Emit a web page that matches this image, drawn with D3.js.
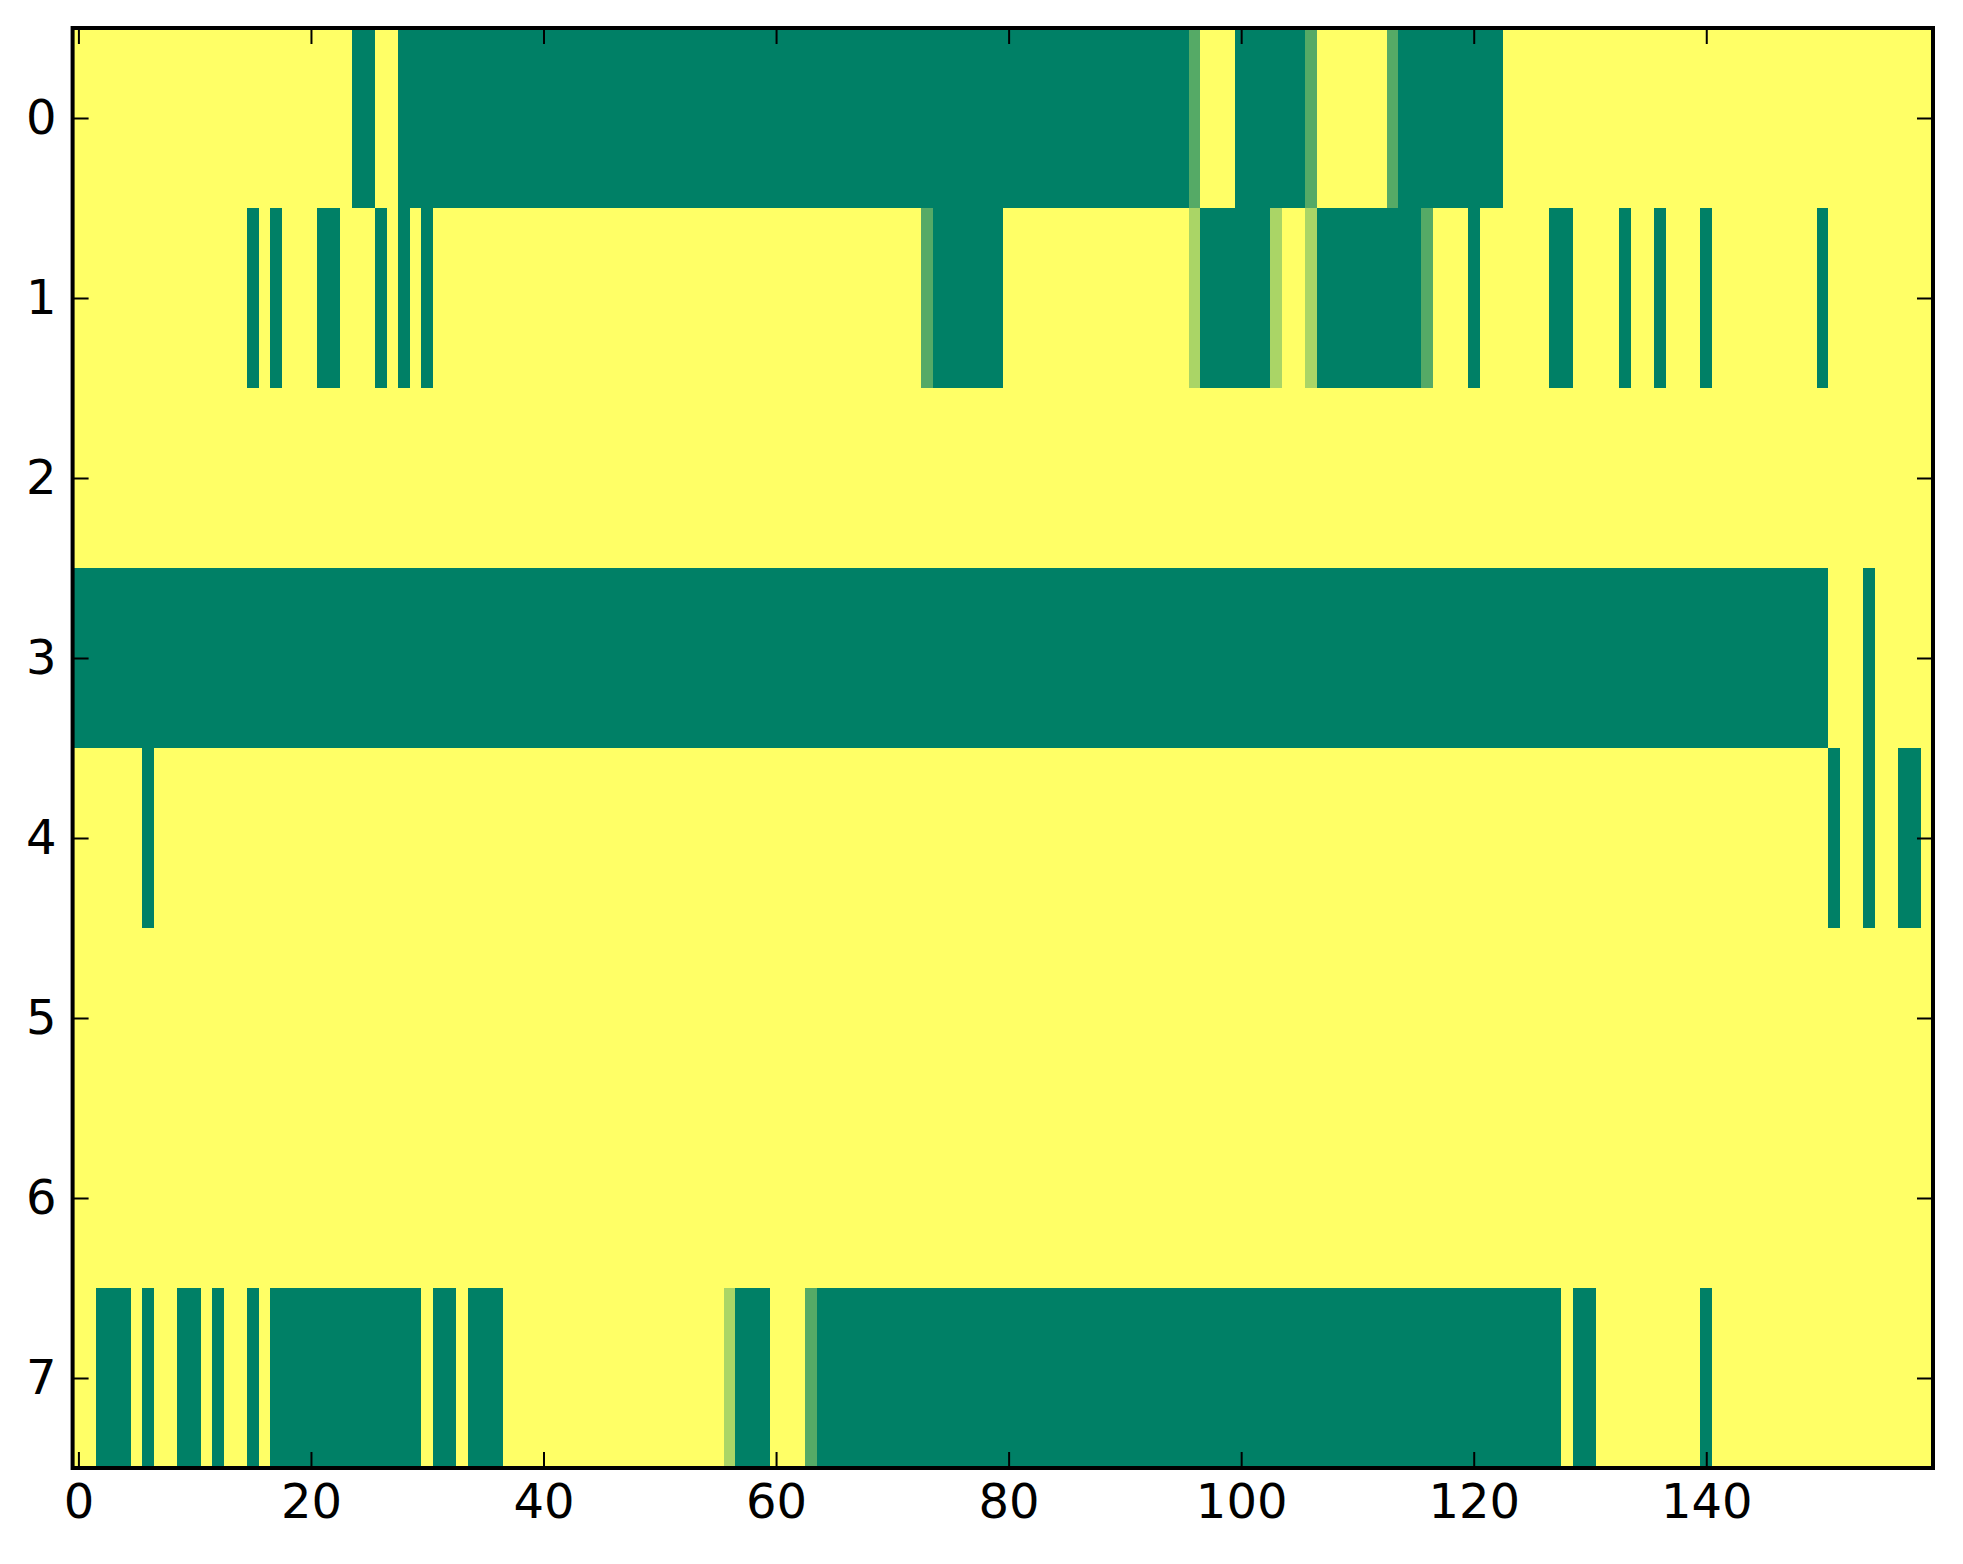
<!DOCTYPE html>
<html lang="en">

<head>
    <meta charset="UTF-8">
    <title>Heatmap</title>
    <style>
        body { margin: 0; background: #fff; }
        text { font-family: "DejaVu Sans", sans-serif; }
    </style>
</head>

<body>
    <div id="graph"></div>
    <script src="https://d3js.org/d3.v7.min.js"></script>

    <script>
        const WIDTH = 1963;
        const HEIGHT = 1564;
        const N_COLS = 160;
        const N_ROWS = 8;

        const X_TICKS = [0, 20, 40, 60, 80, 100, 120, 140];
        const Y_TICKS = [0, 1, 2, 3, 4, 5, 6, 7];

        // non-yellow runs per row: [first column, last column, value]; everything else is 1
        const ROW0 = [[24, 25, 0], [28, 95, 0], [96, 96, 1 / 3], [100, 105, 0], [106, 106, 1 / 3],
            [113, 113, 1 / 3], [114, 122, 0]];
        const ROW1 = [[15, 15, 0], [17, 17, 0], [21, 22, 0], [26, 26, 0], [28, 28, 0], [30, 30, 0],
            [73, 73, 1 / 3], [74, 79, 0], [96, 96, 2 / 3], [97, 102, 0], [103, 103, 2 / 3],
            [106, 106, 2 / 3], [107, 115, 0], [116, 116, 1 / 3], [120, 120, 0], [127, 128, 0],
            [133, 133, 0], [136, 136, 0], [140, 140, 0], [150, 150, 0]];
        const ROW2 = [];
        const ROW3 = [[0, 150, 0], [154, 154, 0]];
        const ROW4 = [[6, 6, 0], [151, 151, 0], [154, 154, 0], [157, 158, 0]];
        const ROW5 = [];
        const ROW6 = [];
        const ROW7 = [[2, 4, 0], [6, 6, 0], [9, 10, 0], [12, 12, 0], [15, 15, 0], [17, 29, 0],
            [31, 32, 0], [34, 36, 0], [56, 56, 2 / 3], [57, 59, 0], [63, 63, 1 / 3], [64, 127, 0],
            [129, 130, 0], [140, 140, 0]];

        const RUNS = [ROW0, ROW1, ROW2, ROW3, ROW4, ROW5, ROW6, ROW7];

        const cells = [];
        RUNS.forEach((runs, row) => {
            const values = new Array(N_COLS).fill(1);
            runs.forEach(([a, b, v]) => {
                for (let c = a; c <= b; c++) values[c] = v;
            });
            values.forEach((v, col) => cells.push({ row, col, v }));
        });

        const LEFT = 72.6, RIGHT = 1933, TOP = 28, BOTTOM = 1468;
        const TICK = 16;

        const xScale = d3.scaleLinear()
            .domain([-0.5, N_COLS - 0.5])
            .range([LEFT, RIGHT]);

        const yScale = d3.scaleLinear()
            .domain([-0.5, N_ROWS - 0.5])
            .range([TOP, BOTTOM]);

        // matplotlib "summer"
        const color = d3.scaleLinear()
            .domain([0, 1])
            .range(["#008066", "#ffff66"])
            .interpolate(d3.interpolateRgb);

        const svg = d3.select("#graph")
            .append("svg")
            .attr("width", WIDTH)
            .attr("height", HEIGHT);

        svg.append("rect")
            .attr("width", WIDTH)
            .attr("height", HEIGHT)
            .attr("fill", "#fff");

        svg.append("g")
            .attr("shape-rendering", "crispEdges")
            .selectAll("rect")
            .data(cells)
            .enter()
            .append("rect")
            .attr("x", d => xScale(d.col - 0.5))
            .attr("y", d => yScale(d.row - 0.5))
            .attr("width", d => xScale(d.col + 0.5) - xScale(d.col - 0.5) + 0.6)
            .attr("height", d => yScale(d.row + 0.5) - yScale(d.row - 0.5) + 0.6)
            .attr("fill", d => color(d.v));

        function styleAxis(g, labels) {
            g.select(".domain").remove();
            g.selectAll(".tick line").attr("stroke", "#000").attr("stroke-width", 2);
            g.selectAll(".tick text")
                .attr("fill", "#000")
                .style("font-size", labels ? "48px" : "0px")
                .style("font-family", "'DejaVu Sans', sans-serif");
        }

        svg.append("g")
            .attr("transform", `translate(0, ${BOTTOM})`)
            .call(d3.axisBottom(xScale).tickValues(X_TICKS).tickSizeInner(-TICK).tickSizeOuter(0).tickPadding(TICK))
            .call(g => styleAxis(g, true));

        svg.append("g")
            .attr("transform", `translate(0, ${TOP})`)
            .call(d3.axisTop(xScale).tickValues(X_TICKS).tickSizeInner(-TICK).tickSizeOuter(0).tickFormat(""))
            .call(g => styleAxis(g, false));

        svg.append("g")
            .attr("transform", `translate(${LEFT}, 0)`)
            .call(d3.axisLeft(yScale).tickValues(Y_TICKS).tickSizeInner(-TICK).tickSizeOuter(0).tickPadding(TICK))
            .call(g => styleAxis(g, true));

        svg.append("g")
            .attr("transform", `translate(${RIGHT}, 0)`)
            .call(d3.axisRight(yScale).tickValues(Y_TICKS).tickSizeInner(-TICK).tickSizeOuter(0).tickFormat(""))
            .call(g => styleAxis(g, false));

        svg.append("rect")
            .attr("x", LEFT)
            .attr("y", TOP)
            .attr("width", RIGHT - LEFT)
            .attr("height", BOTTOM - TOP)
            .attr("fill", "none")
            .attr("stroke", "#000")
            .attr("stroke-width", 4);
    </script>
</body>

</html>
